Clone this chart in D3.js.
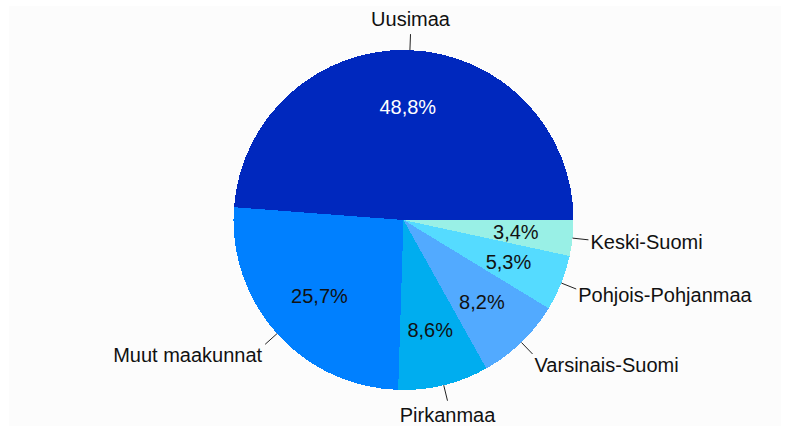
<!DOCTYPE html>
<html>
<head>
<meta charset="utf-8">
<script src="https://cdn.jsdelivr.net/npm/d3@7"></script>
<style>
  body { margin: 0; background: #fff; }
  svg { display: block; font-family: "Liberation Sans", Arial, sans-serif; }
</style>
</head>
<body>
<div class="chart"></div>
<script>
// share of total by region, %, drawn counter-clockwise starting from 3 o'clock
var regions = ["Uusimaa", "Muut maakunnat", "Pirkanmaa", "Varsinais-Suomi", "Pohjois-Pohjanmaa", "Keski-Suomi"],
    shares = [48.8, 25.7, 8.6, 8.2, 5.3, 3.4],
    sliceColors = ["#0028be", "#0080ff", "#00adef", "#52aaff", "#55dbff", "#99f0e6"];

var width = 786,
    height = 426,
    cx = 403.5,
    cy = 220,
    radius = 170,
    fontSize = 20;

var fi = d3.formatLocale({decimal: ",", thousands: "\u00a0", grouping: [3], currency: ["", " €"]});
var pct = fi.format(".1f");

var data = regions.map((r, i) => ({region: r, share: shares[i]}));

var color = d3.scaleOrdinal()
    .domain(regions)
    .range(sliceColors);

const svg = d3.select(".chart").append("svg")
    .attr("width", width)
    .attr("height", height);

// faint plot-area background
svg.append("rect")
    .attr("x", 9).attr("y", 6)
    .attr("width", width - 14).attr("height", height - 6)
    .attr("fill", "#fcfcfc");

const g = svg.append("g")
    .attr("transform", `translate(${cx}, ${cy})`);

let pie = d3.pie()
    .sort(null)
    .value(_d => _d.share)
    .startAngle(Math.PI / 2)
    .endAngle(Math.PI / 2 - 2 * Math.PI);

let arc = d3.arc()
    .innerRadius(0)
    .outerRadius(radius);

let labelArc = d3.arc()
    .innerRadius(113)
    .outerRadius(113);

let arcs = pie(data);

g.selectAll(".slice")
    .data(arcs)
    .enter().append("path")
    .attr("class", "slice")
    .attr("d", arc)
    .attr("fill", _d => color(_d.data.region))
    .attr("shape-rendering", "crispEdges");

// percentages inside slices
g.selectAll(".pct")
    .data(arcs)
    .enter().append("text")
    .attr("class", "pct")
    .attr("transform", _d => `translate(${labelArc.centroid(_d)})`)
    .attr("text-anchor", "middle")
    .attr("dy", ".36em")
    .attr("font-size", fontSize)
    .attr("fill", (_d, i) => i === 0 ? "#fff" : "#111")
    .text(_d => pct(_d.data.share) + "%");

// leader lines and region names
function midAngle(_d) { return (_d.startAngle + _d.endAngle) / 2; }

let outer = g.selectAll(".outer")
    .data(arcs)
    .enter().append("g")
    .attr("class", "outer");

outer.append("line")
    .attr("x1", _d => Math.sin(midAngle(_d)) * radius)
    .attr("y1", _d => -Math.cos(midAngle(_d)) * radius)
    .attr("x2", _d => Math.sin(midAngle(_d)) * (radius + 16))
    .attr("y2", _d => -Math.cos(midAngle(_d)) * (radius + 16))
    .attr("stroke", "#222")
    .attr("stroke-width", 1);

outer.append("text")
    .attr("x", _d => {
      let s = Math.sin(midAngle(_d)), ex = s * (radius + 16);
      return s > 0.3 ? ex + 2 : s < -0.3 ? ex - 3 : ex;
    })
    .attr("y", _d => {
      let c = -Math.cos(midAngle(_d));
      return c * (radius + 16) + c * 15;
    })
    .attr("dy", ".36em")
    .attr("text-anchor", _d => {
      let s = Math.sin(midAngle(_d));
      return s > 0.3 ? "start" : s < -0.3 ? "end" : "middle";
    })
    .attr("font-size", fontSize)
    .attr("fill", "#111")
    .text(_d => _d.data.region);
</script>
</body>
</html>
